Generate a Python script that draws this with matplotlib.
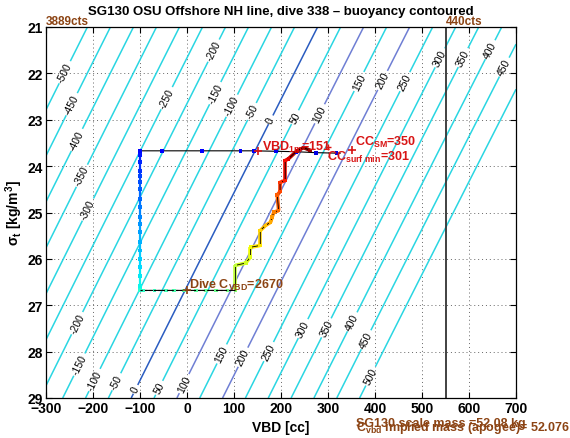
import numpy as np
import matplotlib
matplotlib.use('Agg')
import matplotlib.pyplot as plt
from matplotlib.collections import LineCollection

plt.rcParams['font.family'] = ['Liberation Sans', 'DejaVu Sans']
plt.rcParams['mathtext.fontset'] = 'custom'
plt.rcParams['mathtext.rm'] = 'Liberation Sans'
plt.rcParams['mathtext.bf'] = 'Liberation Sans:bold'
plt.rcParams['mathtext.it'] = 'Liberation Sans:italic'

# vehicle / dive parameters
vol_zero_vbd = 50727.0   # displaced volume at VBD=0 [cc]
implied_mass = 52.076    # kg
scale_mass = 52.08       # kg
vbd_min_cts = 3889
vbd_max_cts = 440
vbd_max = 550
c_vbd = 2670
vbd_1m = 151
cc_sm = 350
cc_surf_min = 301

levels = np.arange(-500, 501, 50)

# surface bleed at start of dive (sigma_t ~ surface)
bleed_vbd = [326, 318, 275, 233, 190, 142, 114, 32, -53, -100]
bleed_sig = [23.72, 23.72, 23.71, 23.69, 23.68, 23.67, 23.67, 23.67, 23.67, 23.67]

# descent at VBD min
desc_sig = [23.67, 23.69, 23.77, 23.91, 24.10, 24.21, 24.34, 24.49, 24.71, 24.89, 25.10,
            25.25, 25.42, 25.64, 25.82, 26.00, 26.18, 26.36, 26.58, 26.68]
desc_vbd = [-100] * len(desc_sig)

# apogee pump
apo_vbd = [-100, -94, -69, -45, -27, -6, 19, 40, 61, 86, 103]
apo_sig = [26.68] * len(apo_vbd)

# climb
climb_vbd = [103, 103, 125, 135, 135, 156, 156, 167, 178, 181, 185, 195, 192, 198, 198,
             209, 209, 216, 234, 248, 262]
climb_sig = [26.65, 26.14, 26.09, 25.96, 25.75, 25.71, 25.39, 25.28, 25.21, 25.10, 24.99,
             24.96, 24.62, 24.55, 24.35, 24.31, 23.88, 23.84, 23.67, 23.60, 23.66]

# where the contour labels sit (vbd, sigma_t)
label_pos = [(-265, 21.95), (-254, 22.62), (-239, 23.41), (-231, 24.17), (-214, 24.92),
             (-48, 22.51), (49, 21.47), (51, 22.38), (100, 22.72), (140, 22.83),
             (174, 22.98), (229, 22.94), (284, 22.88), (369, 22.19), (418, 22.16),
             (466, 22.19), (543, 21.69), (593, 21.69), (651, 21.52), (682, 21.90),
             (-239, 27.36), (-233, 28.26), (-201, 28.59), (-150, 28.65), (-112, 28.80),
             (-63, 28.76), (-6, 28.69), (74, 28.05), (127, 28.16), (174, 28.00),
             (252, 27.53), (305, 27.53), (360, 27.40), (390, 27.79), (403, 28.59)]

brown = '#8c4414'
red = '#d81414'
cyan = '#2ad6e2'

fig = plt.figure(figsize=(5.7, 4.39), dpi=100)
ax = fig.add_axes([46 / 570, 1 - 399 / 439, 470 / 570, 371 / 439])
ax.set_xlim(-300, 700)
ax.set_ylim(29, 21)

# buoyancy field
vg = np.linspace(-300, 700, 201)
sg = np.linspace(21, 29, 161)
V, S = np.meshgrid(vg, sg)
B = (vol_zero_vbd + V) * (1000 + S) / 1000 - implied_mass * 1000
cols = []
for lv in levels:
    if lv == 0:
        cols.append('#2a5cc0')
    elif lv in (100, 200):
        cols.append('#6f7fd4')
    else:
        cols.append(cyan)
cs = ax.contour(V, S, B, levels=levels, colors=cols, linewidths=1.1, zorder=1)
ax.clabel(cs, manual=label_pos, inline=True, inline_spacing=2, fontsize=7.5,
          colors='k', fmt=lambda v: '%d' % v)

ax.grid(True, linestyle=(0, (1, 3)), color='#666666', linewidth=0.7)
ax.set_axisbelow(True)
ax.axvline(vbd_max, color='#333333', lw=1.3, zorder=2)

# whole trajectory in black
path_vbd = bleed_vbd + desc_vbd + apo_vbd + climb_vbd
path_sig = bleed_sig + desc_sig + apo_sig + climb_sig
ax.plot(path_vbd, path_sig, color='k', lw=0.8, zorder=3)

jet = plt.cm.jet
bleed_c = jet(np.linspace(0.08, 0.12, len(bleed_vbd)))
desc_c = jet(np.linspace(0.12, 0.38, len(desc_sig)))
apo_c = jet(np.linspace(0.40, 0.50, len(apo_vbd)))
climb_c = jet(np.linspace(0.56, 0.98, len(climb_vbd)))


def colored(xs, ys, c, lw):
    pts = np.column_stack([xs, ys])
    segs = np.stack([pts[:-1], pts[1:]], axis=1)
    ax.add_collection(LineCollection(segs, colors=c[1:], linewidths=lw, zorder=4))


colored(desc_vbd, desc_sig, desc_c, 1.6)
colored(climb_vbd, climb_sig, climb_c, 2.6)
ax.plot(climb_vbd, climb_sig, color='k', lw=0.6, zorder=5)

ax.scatter(bleed_vbd[1:], bleed_sig[1:], s=7, marker='s', c=bleed_c[1:], lw=0, zorder=6)
ax.scatter(desc_vbd, desc_sig, s=8, marker='s', c=desc_c, lw=0, zorder=6)
ax.scatter(apo_vbd, apo_sig, s=7, marker='s', c=apo_c, lw=0, zorder=6)
ax.plot(apo_vbd, apo_sig, color='k', lw=0.8, ls=(0, (2, 2)), zorder=7)
ax.scatter(climb_vbd, climb_sig, s=7, marker='s', c=climb_c, lw=0, zorder=6)

# annotations
ax.plot([vbd_1m], [23.67], '+', color=red, ms=6, mew=1.2, zorder=8)
ax.text(vbd_1m + 8, 23.58, r'VBD$_{\mathbf{1m}}$=%d' % vbd_1m, color=red,
        fontsize=9, fontweight='bold', ha='left', va='center', zorder=9)
ax.plot([cc_surf_min], [23.59], '+', color=red, ms=5, mew=1.0, zorder=8)
ax.text(cc_surf_min - 4, 23.80, r'CC$_{\mathbf{surf\ min}}$=%d' % cc_surf_min, color=red,
        fontsize=9, fontweight='bold', ha='left', va='center', zorder=9)
ax.plot([cc_sm], [23.65], '+', color=red, ms=6, mew=1.2, zorder=8)
ax.text(cc_sm + 8, 23.47, r'CC$_{\mathbf{SM}}$=%d' % cc_sm, color=red,
        fontsize=9, fontweight='bold', ha='left', va='center', zorder=9)
ax.plot([0], [26.68], '+', color=brown, ms=6, mew=1.2, zorder=8)
ax.text(4, 26.56, r'Dive C$_{\mathbf{VBD}}$=%d' % c_vbd, color=brown,
        fontsize=9, fontweight='bold', ha='left', va='center', zorder=9)

ax.text(-300, 21, '%dcts' % vbd_min_cts, color=brown, fontsize=8.5,
        fontweight='bold', ha='left', va='bottom')
ax.text(vbd_max, 21, '%dcts' % vbd_max_cts, color=brown, fontsize=8.5,
        fontweight='bold', ha='left', va='bottom')

fig.text(356 / 570, 1 - 424 / 439, 'SG130 scale mass =%.2f kg' % scale_mass,
         color=brown, fontsize=9, fontweight='bold', ha='left', va='center')
fig.text(356 / 570, 1 - 431 / 439,
         r'C$_{\mathbf{vbd}}$ implied mass (apogee)= %.3f kg' % implied_mass,
         color=brown, fontsize=9, fontweight='bold', ha='left', va='baseline')

ax.set_xticks(np.arange(-300, 701, 100))
ax.set_yticks(np.arange(21, 30, 1))
ax.tick_params(direction='in', top=True, right=True, length=4, width=0.8,
               labelsize=10, pad=2)
for lbl in ax.get_xticklabels() + ax.get_yticklabels():
    lbl.set_fontweight('bold')
for sp in ax.spines.values():
    sp.set_linewidth(0.9)

ax.set_xlabel('VBD [cc]', fontsize=10, fontweight='bold', labelpad=4)
ax.set_ylabel(r'σ$_{\mathbf{t}}$ [kg/m$^{\mathbf{3}}$]', fontsize=10,
              fontweight='bold', labelpad=2)
ax.set_title('SG130 OSU Offshore NH line, dive 338 \u2013 buoyancy contoured',
             fontsize=9.5, fontweight='bold', pad=9.5)

fig.savefig('out.png', dpi=100)
